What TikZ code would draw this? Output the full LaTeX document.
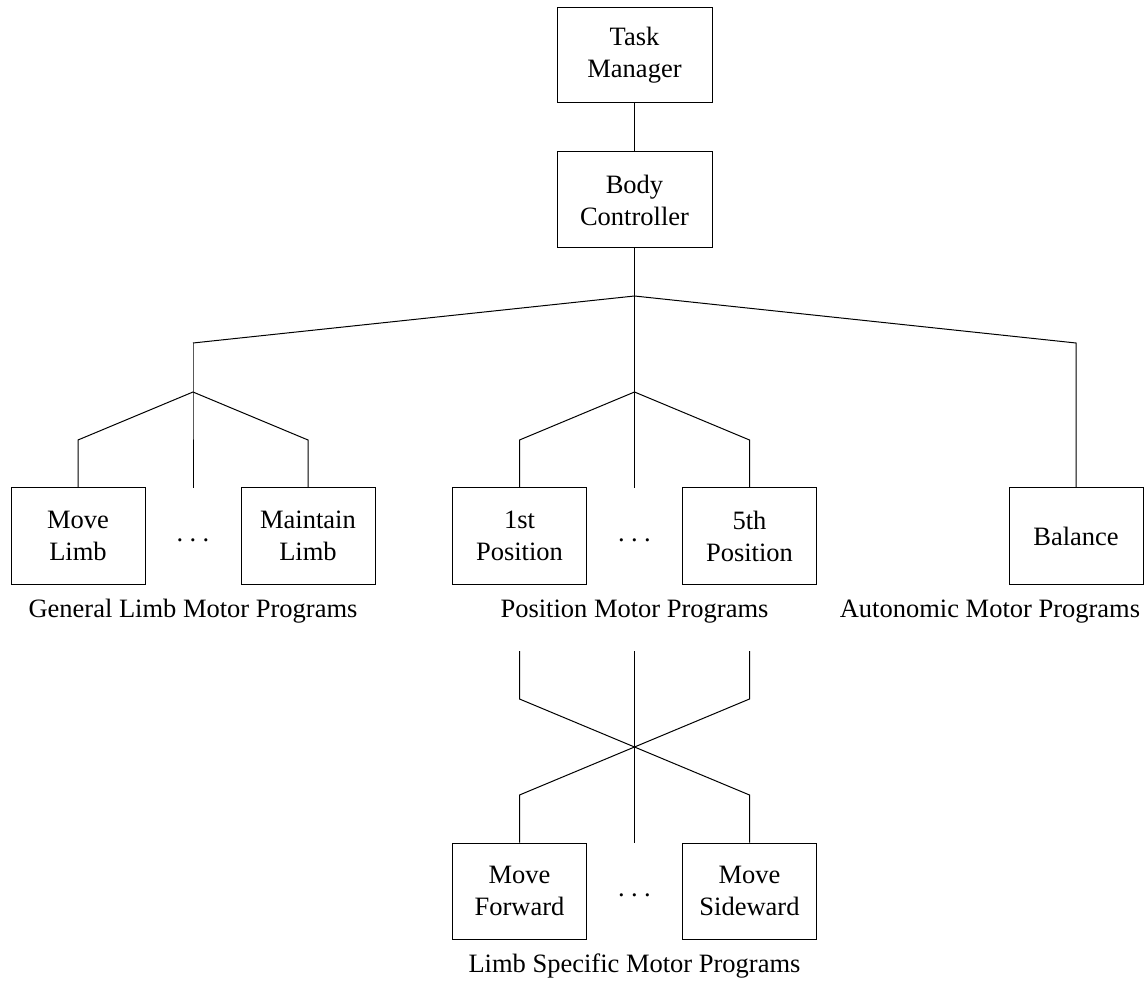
\documentclass[tikz,border=0pt]{standalone}
\usepackage{fontspec}
\setmainfont{Liberation Serif}
\begin{document}
\begin{tikzpicture}[x=1pt,y=-1pt, line width=1pt,
  txt/.style={font=\fontsize{26.5}{32}\selectfont},
  box/.style={draw, txt, minimum width=134pt, minimum height=96pt, inner sep=0pt, align=center},
  captext/.style={txt, anchor=base, inner sep=0pt},
  dotsnode/.style={txt, anchor=base, inner sep=0pt}]
\useasboundingbox (0,0) rectangle (1144,981);

% top
\node[box, minimum width=155pt, minimum height=95pt] (tm) at (634.5,55.5) {Task\\Manager};
\node[box, minimum width=155pt] (bc) at (634.5,200) {Body\\Controller};
\draw (tm.south) -- (bc.north);

\coordinate (j0) at (634.5,296);
\coordinate (jl) at (193,343);
\coordinate (jr) at (1076,343);
\coordinate (jl2) at (193,392);
\coordinate (jm) at (634.5,392);

% second level boxes
\node[box] (ml) at (78,536) {Move\\Limb};
\node[box] (mt) at (308,536) {Maintain\\Limb};
\node[box] (p1) at (519.5,536) {1st\\Position};
\node[box] (p5) at (749.5,536) {5th\\Position};
\node[box] (bal) at (1076,536) {Balance};

\coordinate (bl1) at (78,440);
\coordinate (bl2) at (308,440);
\coordinate (bp1) at (519.5,440);
\coordinate (bp5) at (749.5,440);
\coordinate (el) at (193,488);
\coordinate (em) at (634.5,488);

\draw (bc.south) -- (j0) -- (em);
\draw (jl) -- (j0) -- (jr) -- (bal.north);
\draw (jl) -- (jl2) -- (el);
\draw (ml.north) -- (bl1) -- (jl2) -- (bl2) -- (mt.north);
\draw (p1.north) -- (bp1) -- (jm) -- (bp5) -- (p5.north);

\node[dotsnode] (d1) at (193,541) {.\kern0.24em.\kern0.24em.};
\node[dotsnode] (d2) at (634.5,541) {.\kern0.24em.\kern0.24em.};

\node[captext] (c1) at (193,617) {General Limb Motor Programs};
\node[captext] (c2) at (634.5,617) {Position Motor Programs};
\node[captext] (c3) at (990,617) {Autonomic Motor Programs};

% bottom part
\coordinate (u1) at (519.5,651);
\coordinate (u5) at (749.5,651);
\coordinate (um) at (634.5,651);
\coordinate (k1) at (519.5,699);
\coordinate (k5) at (749.5,699);
\coordinate (x) at (634.5,747);
\coordinate (l1) at (519.5,795);
\coordinate (l5) at (749.5,795);
\coordinate (lm) at (634.5,843);

\node[box] (mf) at (519.5,891) {Move\\Forward};
\node[box] (ms) at (749.5,891) {Move\\Sideward};

\draw (u1) -- (k1) -- (x) -- (l5) -- (ms.north);
\draw (u5) -- (k5) -- (x) -- (l1) -- (mf.north);
\draw (um) -- (lm);

\node[dotsnode] (d3) at (634.5,896) {.\kern0.24em.\kern0.24em.};
\node[captext] (c4) at (634.5,972) {Limb Specific Motor Programs};
\end{tikzpicture}
\end{document}
